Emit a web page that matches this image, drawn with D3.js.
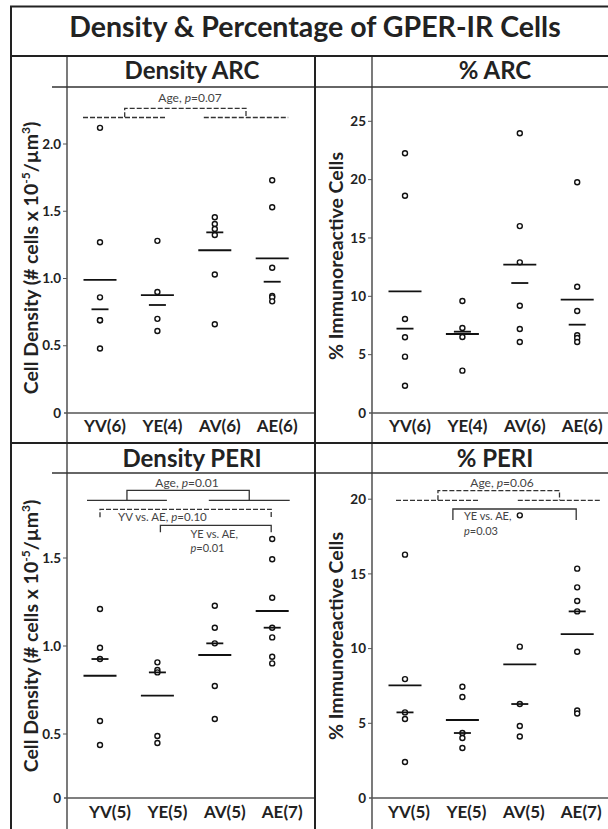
<!DOCTYPE html>
<html>
<head>
<meta charset="utf-8">
<script src="https://cdn.jsdelivr.net/npm/d3@7"></script>
<style>
  body { margin: 0; background: #fff; }
  svg { display: block; font-family: Lato, "Open Sans", sans-serif; }
</style>
</head>
<body>
<div id="chart"></div>
<script>
const groups = ["YV", "YE", "AV", "AE"];
const nArc = [6, 4, 6, 6];
const nPeri = [5, 5, 5, 7];

// cell density, ARC
const densArc = [
    [2.12, 1.27, 0.86, 0.69, 0.69, 0.48],
    [1.28, 0.90, 0.70, 0.61],
    [1.455, 1.405, 1.368, 1.323, 1.03, 0.66],
    [1.73, 1.53, 1.08, 0.87, 0.86, 0.83]
];
const densArcMean = [0.99, 0.877, 1.21, 1.15];
const densArcMedian = [0.771, 0.803, 1.343, 0.976];

// % immunoreactive, ARC
const pctArc = [
    [22.26, 18.62, 8.05, 6.49, 4.83, 2.34],
    [9.6, 7.28, 6.51, 3.63],
    [23.97, 16.02, 12.91, 9.19, 7.2, 6.08],
    [19.77, 10.82, 8.74, 6.66, 6.43, 6.08]
];
const pctArcMean = [10.43, 6.77, 12.71, 9.71];
const pctArcMedian = [7.23, 6.97, 11.14, 7.57];

// cell density, PERI
const densPeri = [
    [1.21, 0.99, 0.926, 0.574, 0.414],
    [0.907, 0.864, 0.85, 0.484, 0.43],
    [1.229, 1.104, 1.015, 0.773, 0.585],
    [1.608, 1.493, 1.274, 1.104, 1.049, 0.939, 0.901]
];
const densPeriMean = [0.831, 0.718, 0.949, 1.199];
const densPeriMedian = [0.926, 0.85, 1.015, 1.104];

// % immunoreactive, PERI
const pctPeri = [
    [16.29, 7.96, 5.73, 5.29, 2.41],
    [7.45, 6.76, 4.35, 4.02, 3.35],
    [18.92, 10.13, 6.29, 4.82, 4.12],
    [15.35, 14.1, 13.19, 12.49, 9.79, 5.86, 5.66]
];
const pctPeriMean = [7.54, 5.22, 8.94, 10.97];
const pctPeriMedian = [5.73, 4.35, 6.29, 12.49];

const densTicksArc = [0, 0.5, 1, 1.5, 2];
const pctTicksArc = [0, 5, 10, 15, 20, 25];
const densTicksPeri = [0, 0.5, 1, 1.5];
const pctTicksPeri = [0, 5, 10, 15, 20];

const W = 608, H = 829;
const ink = "#222";

const cols = [
    { left: 11, axis: 67, right: 315, xlab: 38 },
    { left: 315, axis: 372, right: 608, xlab: 343 }
];
const rows = [
    { top: 56, rule: 87, zero: 413, bottom: 443, titleY: 79, labY: 432 },
    { top: 443, rule: 473, zero: 798, bottom: 829, titleY: 467, labY: 818 }
];

const svg = d3.select('#chart')
    .append('svg')
    .attr('width', W)
    .attr('height', H)
    .attr('viewBox', `0 0 ${W} ${H}`);

function fmtTick(v) {
    return v === 0 ? "0" : (Number.isInteger(v) && v >= 5 ? String(v) : d3.format(".1f")(v));
}

function richText(g, x, y, parts, anchor, size) {
    const t = g.append('text')
        .attr('x', x).attr('y', y)
        .attr('text-anchor', anchor || 'start')
        .attr('dy', '0.35em')
        .attr('font-size', size || 12)
        .attr('fill', '#444');
    parts.forEach(p => {
        t.append('tspan').text(p[0]).attr('font-style', p[1] ? 'italic' : null);
    });
    return t;
}

function bracket(g, x1, x2, y, drop, dashed) {
    g.append('path')
        .attr('d', `M${x1},${y + drop}V${y}H${x2}V${y + drop}`)
        .attr('fill', 'none')
        .attr('stroke', '#333')
        .attr('stroke-width', 1.3)
        .attr('stroke-dasharray', dashed ? '5,2' : null);
}

function hline(g, x1, x2, y, dashed) {
    g.append('line')
        .attr('x1', x1).attr('x2', x2).attr('y1', y).attr('y2', y)
        .attr('stroke', '#333')
        .attr('stroke-width', 1.3)
        .attr('stroke-dasharray', dashed ? '5,2' : null);
}

const panels = [
    {
        col: 0, row: 0, title: "Density ARC", kind: "dens",
        values: densArc, means: densArcMean, medians: densArcMedian, n: nArc,
        ticks: densTicksArc, domain: [0, 2], span: [0, 269],
        labelDx: 5, labelMid: 258
    },
    {
        col: 1, row: 0, title: "% ARC", kind: "pct",
        values: pctArc, means: pctArcMean, medians: pctArcMedian, n: nArc,
        ticks: pctTicksArc, domain: [0, 25], span: [0, 291.7],
        labelDx: 5, labelMid: 256
    },
    {
        col: 0, row: 1, title: "Density PERI", kind: "dens",
        values: densPeri, means: densPeriMean, medians: densPeriMedian, n: nPeri,
        ticks: densTicksPeri, domain: [0, 0.5, 1.5], span: [0, 64, 240],
        labelDx: 10, labelMid: 636
    },
    {
        col: 1, row: 1, title: "% PERI", kind: "pct",
        values: pctPeri, means: pctPeriMean, medians: pctPeriMedian, n: nPeri,
        ticks: pctTicksPeri, domain: [0, 20], span: [0, 298.8],
        labelDx: 4, labelMid: 636
    }
];

panels.forEach(p => {
    const c = cols[p.col], r = rows[p.row];
    const g = svg.append('g');

    const x = d3.scalePoint()
        .domain(groups)
        .range([c.axis + 33, c.axis + 33 + 3 * 57.4]);
    const y = d3.scaleLinear()
        .domain(p.domain)
        .range(p.span.map(s => r.zero - s));
    p.x = x; p.y = y; p.g = g;

    // panel title + rule
    g.append('text')
        .attr('x', (c.axis + c.right) / 2 + (p.col ? 5 : 1))
        .attr('y', r.titleY)
        .attr('text-anchor', 'middle')
        .attr('font-size', 24)
        .attr('font-weight', 700)
        .attr('fill', ink)
        .text(p.title);
    g.append('line')
        .attr('x1', p.col ? c.left : c.axis - 15).attr('x2', c.right)
        .attr('y1', r.rule).attr('y2', r.rule)
        .attr('stroke', '#333').attr('stroke-width', 1.3);

    // y axis: line, ticks, labels
    g.append('line')
        .attr('x1', c.axis).attr('x2', c.axis)
        .attr('y1', r.top).attr('y2', r.bottom)
        .attr('stroke', '#333').attr('stroke-width', 1.3);
    g.append('line')
        .attr('x1', c.axis - 3).attr('x2', c.right)
        .attr('y1', r.zero).attr('y2', r.zero)
        .attr('stroke', '#555').attr('stroke-width', 1.3);

    const tk = g.selectAll('.tick').data(p.ticks).join('g')
        .attr('transform', d => `translate(${c.axis},${y(d)})`);
    tk.filter(d => d !== 0).append('line')
        .attr('x1', -4).attr('x2', 0)
        .attr('stroke', '#555');
    tk.append('text')
        .attr('x', -6)
        .attr('dy', '0.35em')
        .attr('text-anchor', 'end')
        .attr('font-size', 13.5)
        .attr('font-weight', 700)
        .attr('fill', ink)
        .text(fmtTick);

    // y label
    const yl = g.append('text')
        .attr('transform', `translate(${c.xlab},${p.labelMid}) rotate(-90)`)
        .attr('text-anchor', 'middle')
        .attr('font-size', 19.5)
        .attr('font-weight', 700)
        .attr('fill', ink);
    if (p.kind === "dens") {
        yl.append('tspan').text("Cell Density (# cells x 10");
        yl.append('tspan').text("-5").attr('font-size', 12).attr('dy', -8);
        yl.append('tspan').text("/\u00b5m").attr('dy', 8);
        yl.append('tspan').text("3").attr('font-size', 12).attr('dy', -8);
        yl.append('tspan').text(")").attr('dy', 8);
    } else {
        yl.text("% Immunoreactive Cells");
    }

    // x category labels
    g.selectAll('.xlab').data(groups).join('text')
        .attr('x', d => x(d) + p.labelDx)
        .attr('y', r.labY)
        .attr('text-anchor', 'middle')
        .attr('font-size', 17)
        .attr('font-weight', 700)
        .attr('fill', ink)
        .text((d, i) => `${d}(${p.n[i]})`);

    // points
    const pts = p.values.flatMap((vals, i) => vals.map(v => ({ grp: groups[i], v })));
    g.selectAll('.dot').data(pts).join('circle')
        .attr('cx', d => x(d.grp))
        .attr('cy', d => y(d.v))
        .attr('r', 2.5)
        .attr('fill', '#fff')
        .attr('stroke', '#111')
        .attr('stroke-width', 1.4);

    // mean (long) and median (short) lines
    g.selectAll('.mean').data(p.means).join('line')
        .attr('x1', (d, i) => x(groups[i]) - 16.5)
        .attr('x2', (d, i) => x(groups[i]) + 16.5)
        .attr('y1', d => y(d)).attr('y2', d => y(d))
        .attr('stroke', '#111').attr('stroke-width', 1.8);
    g.selectAll('.median').data(p.medians).join('line')
        .attr('x1', (d, i) => x(groups[i]) - 8.5)
        .attr('x2', (d, i) => x(groups[i]) + 8.5)
        .attr('y1', d => y(d)).attr('y2', d => y(d))
        .attr('stroke', '#111').attr('stroke-width', 1.8);
});

// significance annotations
{
    const p = panels[0], x = p.x, g = p.g;
    const l1 = [x("YV") - 17, x("YE") + 9], l2 = [x("AV") - 11, x("AE") + 16];
    hline(g, l1[0], l1[1], 117.5, true);
    hline(g, l2[0], l2[1], 117.5, true);
    bracket(g, d3.mean(l1), d3.mean(l2), 108.3, 9, true);
    richText(g, 190, 98, [["Age, ", false], ["p", true], ["=0.07", false]], 'middle');
}
{
    const p = panels[2], x = p.x, g = p.g;
    const l1 = [x("YV") - 13, x("YE") + 9.5], l2 = [x("AV") - 6, x("AE") + 17.5];
    hline(g, l1[0], l1[1], 500.3, false);
    hline(g, l2[0], l2[1], 500.3, false);
    bracket(g, d3.mean(l1), d3.mean(l2), 490.3, 10, false);
    richText(g, 187, 482.7, [["Age, ", false], ["p", true], ["=0.01", false]], 'middle');
    bracket(g, x("YV"), x("AE") - 1, 509.3, 8, true);
    richText(g, 118, 517, [["YV vs. AE, ", false], ["p", true], ["=0.10", false]], 'start', 11.5);
    bracket(g, x("YE") + 3, x("AE") - 1, 525.3, 7, false);
    richText(g, 190.5, 534.3, [["YE vs. AE,", false]], 'start', 11);
    richText(g, 190.5, 548.3, [["p", true], ["=0.01", false]], 'start', 11);
}
{
    const p = panels[3], x = p.x, g = p.g;
    const l1 = [x("YV") - 9, x("YE") + 17.5], l2 = [x("AV") - 2, x("AE") + 24];
    hline(g, l1[0], l1[1], 500.3, true);
    hline(g, l2[0], l2[1], 500.3, true);
    bracket(g, d3.mean(l1), d3.mean(l2), 490.7, 9.6, true);
    richText(g, 502, 482.7, [["Age, ", false], ["p", true], ["=0.06", false]], 'middle');
    bracket(g, x("YE") - 9.5, x("AE") - 1, 509, 11, false);
    richText(g, 464, 516, [["YE vs. AE,", false]], 'start', 11);
    richText(g, 464, 531, [["p", true], ["=0.03", false]], 'start', 11);
}

// frame
const frame = svg.append('g').attr('stroke', ink).attr('fill', 'none');
frame.append('rect')
    .attr('x', 11).attr('y', 6.5)
    .attr('width', W + 10).attr('height', H + 10)
    .attr('stroke-width', 2);
frame.append('line')
    .attr('x1', 11).attr('x2', W).attr('y1', 56).attr('y2', 56)
    .attr('stroke-width', 2);
frame.append('line')
    .attr('x1', 11).attr('x2', W).attr('y1', 443).attr('y2', 443)
    .attr('stroke-width', 2.2);
frame.append('line')
    .attr('x1', 315).attr('x2', 315).attr('y1', 56).attr('y2', H)
    .attr('stroke-width', 2);

svg.append('text')
    .attr('x', 315)
    .attr('y', 37)
    .attr('text-anchor', 'middle')
    .attr('font-size', 28.5)
    .attr('font-weight', 700)
    .attr('fill', ink)
    .text("Density & Percentage of GPER-IR Cells");
</script>
</body>
</html>
